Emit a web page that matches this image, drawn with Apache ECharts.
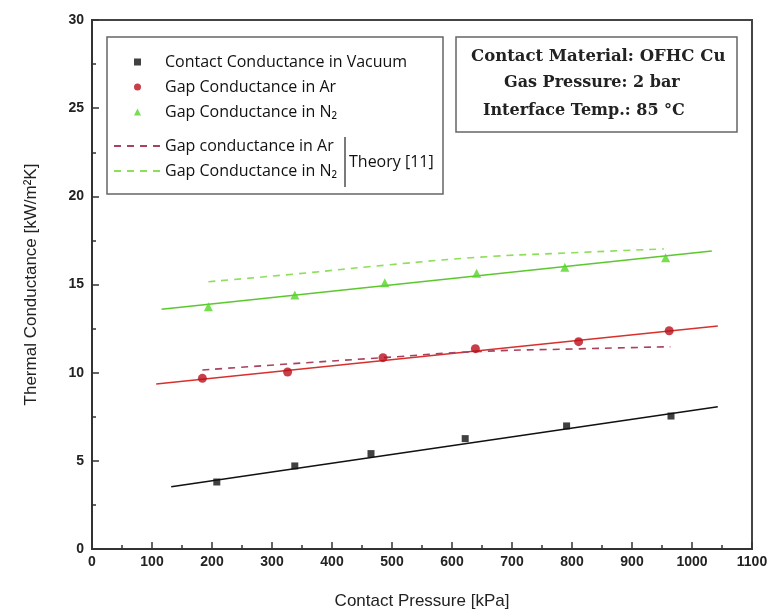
<!DOCTYPE html>
<html>
<head>
<meta charset="utf-8">
<script src="https://cdn.jsdelivr.net/npm/echarts@6/dist/echarts.min.js"></script>
<style>
    html, body {margin: 0; padding: 0; background: #fff;}
    #chart {width: 774px; height: 616px;}
</style>
</head>
<body>
<div id="chart"></div>
<script>
// measured points, pressure in kPa, conductance in kW/m2K
var vacuumPressure = [208, 338, 465, 622, 791, 965];
var vacuumValue = [3.8, 4.71, 5.41, 6.26, 6.98, 7.54];
var arPressure = [184, 326, 485, 639, 811, 962];
var arValue = [9.68, 10.04, 10.85, 11.36, 11.76, 12.38];
var n2Pressure = [194, 338, 488, 641, 788, 956];
var n2Value = [13.74, 14.41, 15.1, 15.64, 15.98, 16.52];

// linear fits (end points)
var vacuumFitX = [132, 1043];
var vacuumFitY = [3.53, 8.07];
var arFitX = [107, 1043];
var arFitY = [9.36, 12.65];
var n2FitX = [116, 1033];
var n2FitY = [13.6, 16.9];

// theory [11]
var arTheoryX = [184, 330, 485, 639, 810, 964];
var arTheoryY = [10.15, 10.5, 10.85, 11.19, 11.35, 11.47];
var n2TheoryX = [194, 340, 490, 647, 800, 953];
var n2TheoryY = [15.16, 15.6, 16.1, 16.55, 16.8, 17.02];

var xTicks = [0, 100, 200, 300, 400, 500, 600, 700, 800, 900, 1000, 1100];
var yTicks = [0, 5, 10, 15, 20, 25, 30];

function pairs(xs, ys) {
    var out = [];
    for (var i = 0; i < xs.length; i++) {
        out.push([xs[i], ys[i]]);
    }
    return out;
}

var chart = echarts.init(document.getElementById('chart'));

var legendFont = 'Open Sans';
var noteFont = 'DejaVu Serif';

var option = {
    backgroundColor: '#fff',
    animation: false,
    grid: {
        left: 92,
        right: 22,
        top: 20,
        bottom: 67,
        show: true,
        borderColor: '#444',
        borderWidth: 2
    },
    legend: [
        {
            data: ['Contact Conductance in Vacuum', 'Gap Conductance in Ar', 'Gap Conductance in N₂'],
            orient: 'vertical',
            left: 134,
            top: 54,
            padding: 0,
            itemWidth: 7,
            itemHeight: 7,
            itemGap: 9,
            selectedMode: false,
            textStyle: {
                fontFamily: legendFont,
                fontSize: 16,
                color: '#111',
                lineHeight: 14,
                padding: [0, 0, 0, 19]
            }
        },
        {
            data: ['Gap conductance in Ar', 'N2 theory'],
            orient: 'vertical',
            left: 113,
            top: 138,
            padding: 0,
            itemWidth: 46,
            itemHeight: 14,
            itemGap: 9,
            selectedMode: false,
            itemStyle: {opacity: 0},
            formatter: function (name) {
                return name === 'N2 theory' ? 'Gap Conductance in N₂' : name;
            },
            textStyle: {
                fontFamily: legendFont,
                fontSize: 16,
                color: '#111',
                lineHeight: 14
            }
        }
    ],
    graphic: [
        {
            type: 'rect',
            shape: {x: 107, y: 37, width: 336, height: 157},
            style: {fill: 'none', stroke: '#666', lineWidth: 1.5},
            silent: true
        },
        {
            type: 'line',
            shape: {x1: 345, y1: 137, x2: 345, y2: 187},
            style: {stroke: '#222', lineWidth: 1.2},
            silent: true
        },
        {
            type: 'text',
            x: 349,
            y: 162,
            style: {
                text: 'Theory [11]',
                fontFamily: legendFont,
                fontSize: 16,
                fill: '#111',
                verticalAlign: 'middle'
            },
            silent: true
        },
        {
            type: 'rect',
            shape: {x: 456, y: 37, width: 281, height: 95},
            style: {fill: 'none', stroke: '#666', lineWidth: 1.5},
            silent: true
        },
        {
            type: 'text',
            x: 471,
            y: 57,
            style: {
                text: 'Contact Material: OFHC Cu',
                fontFamily: noteFont,
                fontWeight: 'bold',
                fontSize: 16.5,
                fill: '#222',
                verticalAlign: 'middle'
            },
            silent: true
        },
        {
            type: 'text',
            x: 504,
            y: 83,
            style: {
                text: 'Gas Pressure: 2 bar',
                fontFamily: noteFont,
                fontWeight: 'bold',
                fontSize: 16,
                fill: '#222',
                verticalAlign: 'middle'
            },
            silent: true
        },
        {
            type: 'text',
            x: 483,
            y: 111,
            style: {
                text: 'Interface Temp.: 85 °C',
                fontFamily: noteFont,
                fontWeight: 'bold',
                fontSize: 16,
                fill: '#222',
                verticalAlign: 'middle'
            },
            silent: true
        }
    ],
    xAxis: {
        type: 'value',
        min: xTicks[0],
        max: xTicks[xTicks.length - 1],
        interval: 100,
        name: 'Contact Pressure [kPa]',
        nameLocation: 'middle',
        nameGap: 44,
        nameTextStyle: {fontFamily: 'Liberation Sans', fontSize: 17, color: '#222'},
        axisLine: {lineStyle: {color: '#333', width: 2}},
        axisTick: {inside: true, length: 7, lineStyle: {color: '#333', width: 1.5}},
        minorTick: {show: true, splitNumber: 2, length: 4, lineStyle: {color: '#333', width: 1.5}},
        axisLabel: {
            fontFamily: 'Liberation Sans',
            fontWeight: 'bold',
            fontSize: 14,
            color: '#222',
            margin: 6,
            formatter: function (v) {
                return String(v);
            }
        },
        splitLine: {show: false}
    },
    yAxis: {
        type: 'value',
        min: yTicks[0],
        max: yTicks[yTicks.length - 1],
        interval: 5,
        name: 'Thermal Conductance [kW/m²K]',
        nameLocation: 'middle',
        nameGap: 52,
        nameTextStyle: {fontFamily: 'Liberation Sans', fontSize: 17, color: '#222'},
        axisLine: {lineStyle: {color: '#333', width: 2}},
        axisTick: {inside: true, length: 7, lineStyle: {color: '#333', width: 1.5}},
        minorTick: {show: true, splitNumber: 2, length: 4, lineStyle: {color: '#333', width: 1.5}},
        axisLabel: {
            fontFamily: 'Liberation Sans',
            fontWeight: 'bold',
            fontSize: 14,
            color: '#222',
            margin: 8
        },
        splitLine: {show: false}
    },
    series: [
        {
            name: 'Vacuum fit',
            type: 'line',
            symbol: 'none',
            lineStyle: {color: '#111', width: 1.6},
            data: pairs(vacuumFitX, vacuumFitY)
        },
        {
            name: 'Ar fit',
            type: 'line',
            symbol: 'none',
            lineStyle: {color: '#d8302c', width: 1.6},
            data: pairs(arFitX, arFitY)
        },
        {
            name: 'N2 fit',
            type: 'line',
            symbol: 'none',
            lineStyle: {color: '#5cc82e', width: 1.6},
            data: pairs(n2FitX, n2FitY)
        },
        {
            name: 'Gap conductance in Ar',
            type: 'line',
            symbol: 'none',
            smooth: true,
            lineStyle: {color: '#a8425e', width: 1.6, type: [7, 6]},
            itemStyle: {color: '#a8425e'},
            data: pairs(arTheoryX, arTheoryY)
        },
        {
            name: 'N2 theory',
            type: 'line',
            symbol: 'none',
            smooth: true,
            lineStyle: {color: '#8ede5a', width: 1.6, type: [7, 6]},
            itemStyle: {color: '#8ede5a'},
            data: pairs(n2TheoryX, n2TheoryY)
        },
        {
            name: 'Contact Conductance in Vacuum',
            type: 'scatter',
            symbol: 'rect',
            symbolSize: 7,
            itemStyle: {color: '#111'},
            z: 5,
            data: pairs(vacuumPressure, vacuumValue)
        },
        {
            name: 'Gap Conductance in Ar',
            type: 'scatter',
            symbol: 'circle',
            symbolSize: 9,
            itemStyle: {color: '#b80f1c'},
            z: 5,
            data: pairs(arPressure, arValue)
        },
        {
            name: 'Gap Conductance in N₂',
            type: 'scatter',
            symbol: 'triangle',
            symbolSize: 9,
            itemStyle: {color: '#55d628'},
            z: 5,
            data: pairs(n2Pressure, n2Value)
        }
    ]
};

chart.setOption(option);
</script>
</body>
</html>
